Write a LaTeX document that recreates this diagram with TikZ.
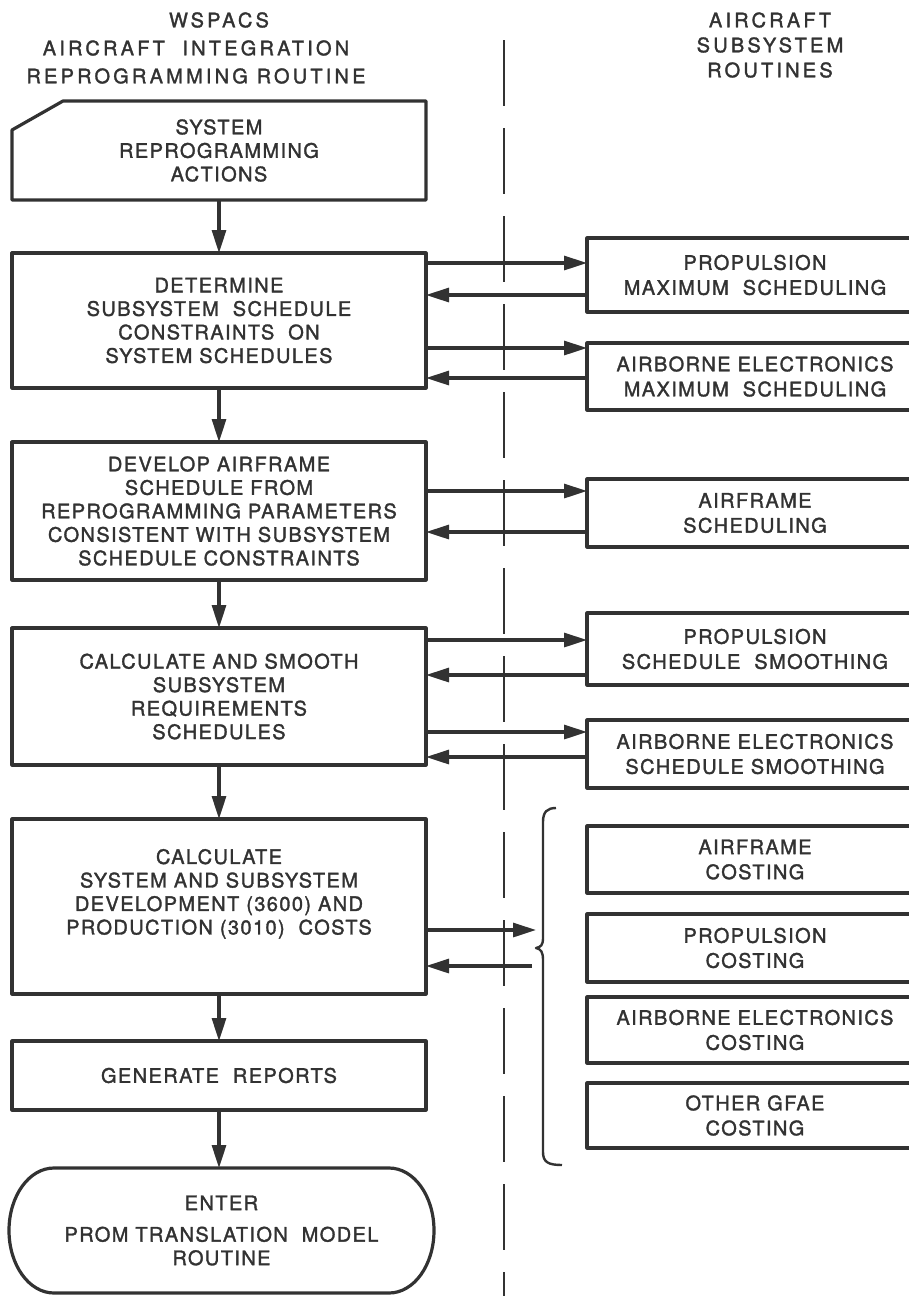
\documentclass[tikz,border=0pt]{standalone}
\usepackage{fontspec}
\setmainfont{TeX Gyre Heros}[LetterSpace=7, FakeBold=1.6]
\newfontfamily\titlefont{TeX Gyre Heros}[LetterSpace=16, FakeBold=1.6]
\usetikzlibrary{arrows.meta, calc}

\definecolor{ink}{RGB}{50,50,50}

\tikzset{
	line/.style = {draw=ink, line width=3.2pt, line join=round},
	flow/.style = {line, -{Triangle[length=23pt, width=14pt]}},
	lbox/.style = {line, align=center, text=ink, inner sep=0pt, outer sep=0pt,
		minimum width=414pt, font=\fontsize{20}{23.5}\selectfont},
	rbox/.style = {line, align=center, text=ink, inner sep=0pt, outer sep=0pt,
		minimum width=336pt, font=\fontsize{20}{25}\selectfont},
	title/.style = {align=center, text=ink, inner sep=0pt,
		font=\titlefont\fontsize{20}{28}\selectfont}
}

\begin{document}
\begin{tikzpicture}[x=1pt, y=-1pt]
	\useasboundingbox (0,0) rectangle (909,1296);
	\clip (0,0) rectangle (909,1296);
	
	% headings
	\node[title] (left head) at (196,48) {\hspace*{46pt}WSPACS\\AIRCRAFT\ \ INTEGRATION\\REPROGRAMMING\ ROUTINE};
	\node[title, font=\titlefont\fontsize{20}{25}\selectfont] (right head) at (770,45) {AIRCRAFT\\SUBSYSTEM\\ROUTINES};
	
	% dividing line
	\draw[draw=ink, line width=2.4pt, dash pattern=on 66pt off 22pt] (504,40) -- (504,1296);
	
	% main routine
	\node[lbox, draw=none, minimum height=99pt] (card) at (219,150.5) {SYSTEM\\REPROGRAMMING\\ACTIONS};
	\draw[line] ($(card.north west)+(51,0)$) -- (card.north east) -- (card.south east)
		-- (card.south west) -- ($(card.north west)+(0,29)$) -- cycle;
	
	\node[lbox, minimum height=135pt] (determine) at (219,320.5)
		{DETERMINE\\SUBSYSTEM\ \ SCHEDULE\\CONSTRAINTS\ \ ON\\SYSTEM SCHEDULES};
	\node[lbox, minimum height=138pt] (develop) at (219,511)
		{DEVELOP AIRFRAME\\SCHEDULE FROM\\REPROGRAMMING PARAMETERS\\CONSISTENT WITH SUBSYSTEM\\SCHEDULE CONSTRAINTS};
	\node[lbox, minimum height=137pt] (smooth) at (219,696.5)
		{CALCULATE AND SMOOTH\\SUBSYSTEM\\REQUIREMENTS\\SCHEDULES};
	\node[lbox, minimum height=175pt] (costs) at (219,906.5)
		{CALCULATE\\SYSTEM AND SUBSYSTEM\\DEVELOPMENT (3600) AND\\PRODUCTION (3010)\ \ COSTS\\[6pt]};
	\node[lbox, minimum height=69pt] (reports) at (219,1075.5) {GENERATE\ \ REPORTS};
	
	\node[lbox, draw=none, minimum width=425pt, minimum height=125pt] (enter) at (221.5,1230.5)
		{ENTER\\[8pt]PROM TRANSLATION\ \ MODEL\\ROUTINE};
	\draw[line] ($(enter.north west)+(45,0)$) -- ($(enter.north east)+(-45,0)$)
		.. controls ($(enter.north east)+(-20,0)$) and ($(enter.east)+(0,-34.5)$) .. (enter.east)
		.. controls ($(enter.east)+(0,34.5)$) and ($(enter.south east)+(-20,0)$) .. ($(enter.south east)+(-45,0)$)
		-- ($(enter.south west)+(45,0)$)
		.. controls ($(enter.south west)+(20,0)$) and ($(enter.west)+(0,34.5)$) .. (enter.west)
		.. controls ($(enter.west)+(0,-34.5)$) and ($(enter.north west)+(20,0)$) .. cycle;
	
	% subsystem routines
	\node[rbox, minimum height=74pt] (prop max) at (755,275) {PROPULSION\\MAXIMUM\ \ SCHEDULING};
	\node[rbox, minimum height=67pt] (ae max) at (755,376.5) {AIRBORNE ELECTRONICS\\MAXIMUM\ \ SCHEDULING};
	\node[rbox, minimum height=68pt] (af sched) at (755,513) {AIRFRAME\\SCHEDULING};
	\node[rbox, minimum height=72pt] (prop smooth) at (755,649) {PROPULSION\\SCHEDULE\ \ SMOOTHING};
	\node[rbox, minimum height=68pt] (ae smooth) at (755,754) {AIRBORNE ELECTRONICS\\SCHEDULE SMOOTHING};
	\node[rbox, minimum height=67pt] (af cost) at (755,859.5) {AIRFRAME\\COSTING};
	\node[rbox, minimum height=68pt] (prop cost) at (755,948) {PROPULSION\\COSTING};
	\node[rbox, minimum height=66pt] (ae cost) at (755,1030) {AIRBORNE ELECTRONICS\\COSTING};
	\node[rbox, minimum height=65pt] (other cost) at (755,1115.5) {OTHER GFAE\\COSTING};
	
	% brace round the costing routines
	\coordinate (brace tip) at (536,948);
	\draw[line, line width=2.4pt] (556,808) .. controls (547,808) and (543,812) .. (543,822)
		-- (543,938) .. controls (543,945) and (541,947) .. (brace tip)
		.. controls (541,949) and (543,952) .. (543,960)
		-- (543,1152) .. controls (543,1162) and (548,1165) .. (562,1165);
	
	% main flow
	\draw[flow] (card.south) -- (determine.north);
	\draw[flow] (determine.south) -- (develop.north);
	\draw[flow] (develop.south) -- (smooth.north);
	\draw[flow] (smooth.south) -- (costs.north);
	\draw[flow] (costs.south) -- (reports.north);
	\draw[flow] (reports.south) -- (reports.south |- enter.north);
	
	% calls and returns
	\draw[flow] (determine.east |- 0,263) -- (prop max.west |- 0,263);
	\draw[flow] (prop max.west |- 0,295) -- (determine.east |- 0,295);
	\draw[flow] (determine.east |- 0,348) -- (ae max.west |- 0,348);
	\draw[flow] (ae max.west |- 0,378) -- (determine.east |- 0,378);
	\draw[flow] (develop.east |- 0,491) -- (af sched.west |- 0,491);
	\draw[flow] (af sched.west |- 0,532) -- (develop.east |- 0,532);
	\draw[flow] (smooth.east |- 0,640) -- (prop smooth.west |- 0,640);
	\draw[flow] (prop smooth.west |- 0,675) -- (smooth.east |- 0,675);
	\draw[flow] (smooth.east |- 0,732) -- (ae smooth.west |- 0,732);
	\draw[flow] (ae smooth.west |- 0,757) -- (smooth.east |- 0,757);
	\draw[flow] (costs.east |- 0,930) -- (brace tip |- 0,930);
	\draw[flow] ($(brace tip |- 0,966)+(-4,0)$) -- (costs.east |- 0,966);
\end{tikzpicture}
\end{document}
